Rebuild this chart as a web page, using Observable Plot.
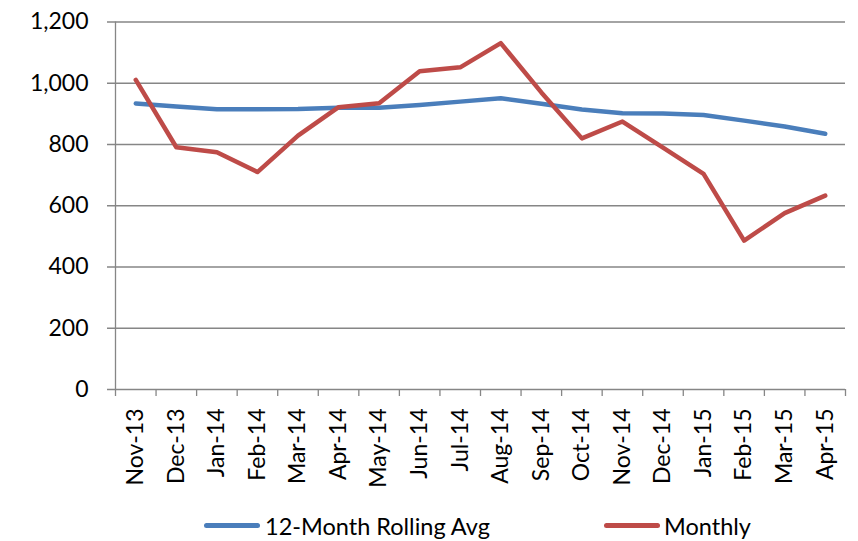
<!DOCTYPE html>
<html><head><meta charset="utf-8">
<script src="https://cdn.jsdelivr.net/npm/d3@7"></script>
<script src="https://cdn.jsdelivr.net/npm/@observablehq/plot@0.6"></script>
<style>
body{margin:0;background:#fff;font-family:Lato,"Open Sans",sans-serif;}
#wrap{position:relative;width:858px;height:541px;}
#legend{position:absolute;left:0;top:500px;width:858px;height:41px;font-size:23.5px;color:#000;}
.sw{position:absolute;height:5px;width:56px;border-radius:3px;top:23px;}
.lt{position:absolute;top:11px;line-height:30px;white-space:nowrap;}
</style></head><body><div id="wrap"><div id="chart"></div><div id="legend"></div></div>
<script>
const months = ["Nov-13","Dec-13","Jan-14","Feb-14","Mar-14","Apr-14","May-14","Jun-14","Jul-14","Aug-14","Sep-14","Oct-14","Nov-14","Dec-14","Jan-15","Feb-15","Mar-15","Apr-15"];
const rollingAvg = [934,924,915,915,916,920,920,929,940,951,933,914,902,901,896,878,859,835];
const monthly = [1011,791,775,710,829,922,935,1039,1052,1131,970,820,875,790,704,486,576,633];
const yTicks = [0,200,400,600,800,1000,1200];
const seriesNames = ["12-Month Rolling Avg","Monthly"];
const seriesColors = ["#4a7ebb","#be4b48"];

const data = [];
seriesNames.forEach((s, k) => {
  const vals = k === 0 ? rollingAvg : monthly;
  months.forEach((m, i) => data.push({month: m, value: vals[i], series: s}));
});

const W = 858, H = 500, mL = 115, mR = 13, mT = 21.5, mB = 111;
const step = (W - mL - mR) / months.length;
const grid = "#868686";
const fmt = d3.format(",.0f");

const chart = Plot.plot({
  width: W, height: H,
  marginLeft: mL, marginRight: mR, marginTop: mT, marginBottom: mB,
  style: {fontFamily: "Lato, 'Open Sans', sans-serif", fontSize: "23px", color: "#000", background: "#fff"},
  x: {type: "point", domain: months, padding: 0.5, round: false, label: null},
  y: {domain: [0, 1200], label: null},
  color: {domain: seriesNames, range: seriesColors},
  marks: [
    Plot.ruleY(yTicks, {stroke: grid, strokeWidth: 1.3, insetLeft: -8}),
    Plot.ruleX(months.slice(0, 1), {y1: 0, y2: 1200, dx: -step / 2, stroke: grid, strokeWidth: 1.3}),
    Plot.ruleX(months, {y1: 0, y2: 0, dx: -step / 2, insetBottom: -7, stroke: grid, strokeWidth: 1.3}),
    Plot.ruleX(months.slice(-1), {y1: 0, y2: 0, dx: step / 2, insetBottom: -7, stroke: grid, strokeWidth: 1.3}),
    Plot.line(data, {x: "month", y: "value", z: "series", stroke: "series", strokeWidth: 4.5, strokeLinejoin: "round", strokeLinecap: "round"}),
    Plot.axisY({ticks: yTicks, tickFormat: fmt, tickSize: 0, tickPadding: 27, fontSize: 23, label: null}),
    Plot.axisX({tickRotate: -90, tickSize: 0, tickPadding: 19, fontSize: 23, label: null})
  ]
});
document.getElementById("chart").appendChild(chart);

const legend = document.getElementById("legend");
const pos = [[204, 265], [604, 664]];
seriesNames.forEach((s, k) => {
  const sw = document.createElement("div");
  sw.className = "sw"; sw.style.left = pos[k][0] + "px"; sw.style.background = seriesColors[k];
  const t = document.createElement("div");
  t.className = "lt"; t.style.left = pos[k][1] + "px"; t.textContent = s;
  legend.appendChild(sw); legend.appendChild(t);
});
</script></body></html>
